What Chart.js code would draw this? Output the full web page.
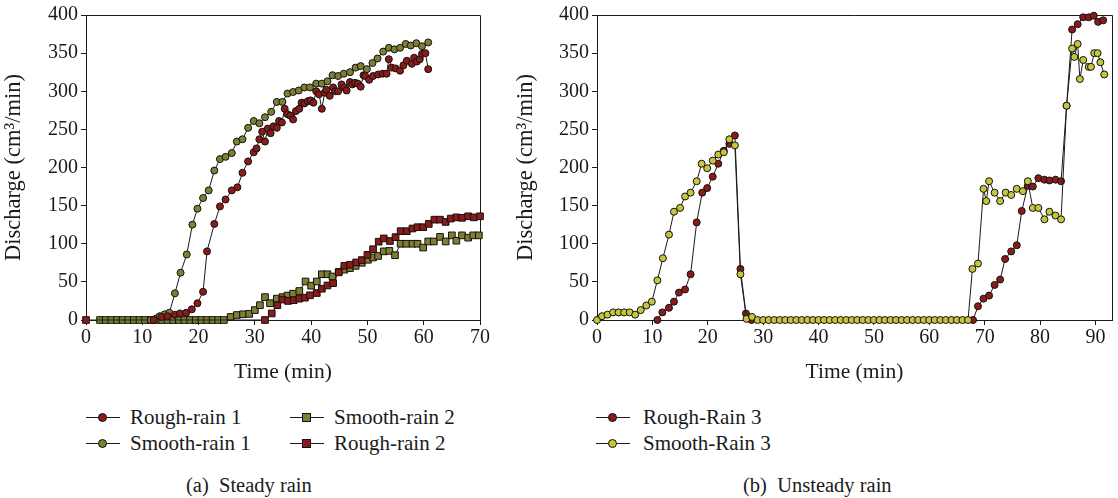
<!DOCTYPE html>
<html lang="en">
<head>
<meta charset="UTF-8">
<title>Discharge under steady and unsteady rain</title>
<script src="https://cdn.jsdelivr.net/npm/chart.js@4.4.1/dist/chart.umd.min.js"></script>
<style>
  body {
    margin: 0;
    width: 1118px;
    height: 498px;
    position: relative;
    overflow: hidden;
    background: #fff;
    color: #1a1a1a;
    font-family: "Liberation Serif", "DejaVu Serif", serif;
  }
  canvas { position: absolute; top: 0; }
  #chartA { left: 0; }
  #chartB { left: 512px; }
  .item {
    position: absolute;
    height: 24px;
    line-height: 24px;
    font-size: 21px;
    white-space: nowrap;
  }
  .sym {
    position: absolute;
    left: 0;
    top: 12px;
    width: 34px;
    height: 1px;
    background: #1a1a1a;
  }
  .sym i {
    position: absolute;
    left: 12px;
    top: -4px;
    width: 9px;
    height: 9px;
    box-sizing: border-box;
    border: 1px solid #111;
  }
  .sym i.dot { border-radius: 50%; }
  .label { position: absolute; top: 0; }
  .caption {
    position: absolute;
    top: 473px;
    font-size: 20.5px;
    line-height: 24px;
    white-space: pre;
  }
</style>
</head>
<body>
<canvas id="chartA" width="512" height="389"></canvas>
<canvas id="chartB" width="606" height="389"></canvas>

<!-- legend (a) -->
<div class="item" style="left:86px; top:405px;">
  <span class="sym"><i class="dot" style="background:#8b1a1a"></i></span><span class="label" style="left:44px">Rough-rain 1</span>
</div>
<div class="item" style="left:86px; top:431px;">
  <span class="sym"><i class="dot" style="background:#7f7f33"></i></span><span class="label" style="left:44px">Smooth-rain 1</span>
</div>
<div class="item" style="left:290px; top:405px;">
  <span class="sym"><i style="background:#7f7f33"></i></span><span class="label" style="left:44px">Smooth-rain 2</span>
</div>
<div class="item" style="left:290px; top:431px;">
  <span class="sym"><i style="background:#8b1a1a"></i></span><span class="label" style="left:44px">Rough-rain 2</span>
</div>
<div class="caption" style="left:186px">(a)  Steady rain</div>

<!-- legend (b) -->
<div class="item" style="left:596px; top:405px;">
  <span class="sym"><i class="dot" style="background:#8b1a1a"></i></span><span class="label" style="left:47px">Rough-Rain 3</span>
</div>
<div class="item" style="left:596px; top:431px;">
  <span class="sym"><i class="dot" style="background:#c6c63c"></i></span><span class="label" style="left:47px">Smooth-Rain 3</span>
</div>
<div class="caption" style="left:743px">(b)  Unsteady rain</div>

<script>
// ---- (a) steady rain, time in min / discharge in cm3/min ----
const roughRain1Time = [12, 13.4, 14.5, 15.8, 16.7, 17.8, 18.8, 19.8, 20.8, 21.5,
  22.8, 23.8, 24.8, 25.9, 26.9, 27.8, 28.8, 29.8, 30.3, 30.8,
  31.3, 31.8, 32.3, 32.8, 33.3, 33.9, 34.3, 34.8, 35.3, 35.8,
  36.3, 36.8, 37.3, 37.9, 38.3, 38.8, 39.4, 39.9, 40.4, 40.9,
  41.4, 41.9, 42.4, 42.7, 43.3, 43.9, 44.3, 44.8, 45.4, 45.9,
  46.3, 46.9, 47.3, 47.8, 48.3, 48.8, 49.3, 49.6, 50.3, 51,
  51.9, 52.7, 53.4, 53.8, 54.3, 55, 55.8, 56.4, 57, 57.9,
  58.3, 58.8, 59.3, 59.7, 60.3, 60.8];
const roughRain1 = [0, 4, 5, 7, 8.6, 9.5, 14, 22, 37, 90,
  126, 149, 158, 170, 174, 193, 208, 220, 225, 237,
  247, 234, 251, 245, 254, 252, 261, 259, 277, 270,
  268, 263, 274, 277, 285, 284, 287, 288, 285, 300,
  296, 277, 298, 302, 294, 305, 300, 300, 309, 305,
  301, 312, 309, 311, 310, 306, 321, 320, 315, 320,
  322, 323, 323, 342, 331, 330, 327, 334, 340, 336,
  344, 339, 342, 349, 350, 329];

const smoothRain1Time = [11.5, 12.5, 13.1, 14, 14.8, 15.8, 16.8, 17.9, 18.9, 19.8,
  20.8, 21.8, 22.8, 23.8, 24.8, 25.9, 26.8, 27.8, 28.8, 29.8,
  30.8, 31.8, 32.9, 33.9, 34.9, 35.8, 36.8, 37.8, 38.8, 39.8,
  40.9, 41.9, 42.9, 43.8, 44.8, 45.8, 46.9, 47.9, 48.8, 49.9,
  50.9, 51.8, 52.8, 53.8, 54.8, 55.8, 56.8, 57.7, 58.7, 59.7,
  60.8];
const smoothRain1 = [0, 2, 5, 7.5, 9.5, 35, 62, 86, 125, 146,
  160, 170, 196, 211, 214, 219, 234, 237, 252, 261,
  258, 266, 273, 286, 286, 297, 299, 301, 305, 305,
  310, 310, 313, 321, 320, 323, 325, 331, 333, 329,
  337, 343, 352, 357, 355, 357, 362, 360, 363, 359,
  364];

const smoothRain2Time = [2.5, 3.5, 4.5, 5.5, 6.5, 7.5, 8.5, 9.5, 10.5, 11.5,
  12.5, 13.5, 14.5, 15.5, 16.5, 17.5, 18.5, 19.5, 20.5, 21.5,
  22.5, 23.5, 24.5, 25.7, 26.8, 27.9, 29, 30, 30.9, 31.8,
  32.7, 33.9, 34.9, 35.8, 36.8, 37.9, 39, 40, 41, 41.9,
  42.9, 43.8, 44.9, 45.9, 46.9, 47.9, 49, 50.1, 51, 51.9,
  52.9, 53.9, 54.9, 55.9, 56.9, 58, 58.9, 59.9, 60.8, 61.8,
  62.9, 63.9, 65, 65.8, 66.8, 67.9, 68.8, 69.8];
const smoothRain2 = [0, 0, 0, 0, 0, 0, 0, 0, 0, 0,
  0, 0, 0, 0, 0, 0, 0, 0, 0, 0,
  0, 0, 0, 4, 6.5, 7.5, 8, 13, 19.4, 30,
  22, 28, 30, 32, 34.5, 38, 50.5, 45, 50.5, 60,
  60, 57, 63, 66, 68, 71, 75, 79, 82, 84,
  90, 90.6, 85, 100, 100, 100, 100, 95, 103, 103,
  109, 103, 111, 104, 111, 108, 111, 111];

const roughRain2Time = [0, 31.8, 33, 34, 34.9, 35.9, 36.9, 37.9, 38.9, 39.8,
  41, 41.9, 42.9, 43.9, 44.9, 45.9, 46.9, 48, 49, 50,
  51, 52, 52.9, 54, 55, 55.9, 57, 58, 58.9, 59.9,
  60.9, 61.9, 62.9, 63.9, 64.8, 65.8, 66.8, 67.9, 68.9, 70];
const roughRain2 = [0, 0, 8.6, 19.4, 26.8, 25, 26, 28, 29.3, 32.4,
  35.4, 41, 45.3, 48.3, 62.5, 71, 72.5, 75.5, 78.6, 85.4,
  92.8, 102.7, 107, 103.6, 108.7, 116.5, 116.5, 120, 121.7, 121.7,
  126, 131.6, 131.6, 128.6, 133, 134.6, 134, 136, 134.6, 136];

// ---- (b) unsteady rain ----
const roughRain3Time = [10.9, 11.8, 13, 13.9, 14.8, 15.9, 16.9, 18, 19, 19.9,
  20.9, 21.9, 22.9, 23.9, 24.9, 25.9, 26.9, 27.9, 67.9, 68.8,
  69.8, 70.8, 71.8, 72.8, 73.7, 74.8, 75.8, 76.7, 77.8, 78.7,
  79.7, 80.8, 81.7, 82.8, 83.8, 84.8, 85.8, 86.8, 87.8, 88.8,
  89.7, 90.5, 91.4];
const roughRain3 = [0, 10, 16, 24, 36, 40, 60, 128, 167, 173,
  188, 205, 222, 231, 242, 67, 8.5, 0, 0, 18,
  28, 32, 46, 53, 80, 90, 98, 143, 176, 175,
  186, 184, 183, 184, 182, 281, 381, 388, 397, 397,
  399, 391, 393];

const smoothRain3Time = [0, 0.9, 1.9, 2.9, 3.9, 4.9, 5.9, 6.9, 7.9, 8.9,
  9.9, 10.9, 11.9, 13, 13.9, 15, 15.9, 16.9, 18, 18.9,
  19.9, 20.9, 21.9, 22.9, 23.9, 24.9, 25.9, 27, 28, 29,
  30, 31, 32, 33, 34, 35, 36, 37, 38, 39,
  40, 41, 42, 43, 44, 45, 46, 47, 48, 49,
  50, 51, 52, 53, 54, 55, 56, 57, 58, 59,
  60, 61, 62, 63, 64, 65, 66, 67, 67.8, 68.8,
  69.8, 70.3, 70.8, 71.8, 72.8, 73.8, 74.8, 75.8, 76.9, 77.8,
  78.7, 79.7, 80.8, 81.7, 82.8, 83.8, 84.8, 85.8, 86.2, 86.8,
  87.2, 87.8, 88.8, 89.2, 89.8, 90.4, 90.9, 91.6];
const smoothRain3 = [0, 5, 7, 10, 10, 10, 10, 7, 13, 19,
  24, 52, 81, 112, 142, 147, 162, 167, 182, 205,
  199, 209, 217, 220, 237, 229, 60, 1.5, 4, 0,
  0, 0, 0, 0, 0, 0, 0, 0, 0, 0,
  0, 0, 0, 0, 0, 0, 0, 0, 0, 0,
  0, 0, 0, 0, 0, 0, 0, 0, 0, 0,
  0, 0, 0, 0, 0, 0, 0, 0, 67, 74,
  172, 156, 182, 167, 156, 167, 164, 172, 169, 182,
  147, 147, 132, 142, 137, 132, 281, 356, 345, 362,
  316, 341, 332, 332, 350, 350, 338, 322];

const yTicks = [0, 50, 100, 150, 200, 250, 300, 350, 400];

const RED = '#8b1a1a';
const OLIVE = '#7f7f33';
const LIME = '#c6c63c';
const INK = '#1a1a1a';
const FAMILY = '"Liberation Serif", "DejaVu Serif", serif';
const TICK_FONT = { family: FAMILY, size: 20 };
const TITLE_FONT = { family: FAMILY, size: 21.5 };
const YTITLE_FONT = { family: FAMILY, size: 22.5 };

function pts(t, v) {
  return t.map((x, i) => ({ x: x, y: v[i] }));
}

function series(t, v, color, style) {
  return {
    data: pts(t, v),
    showLine: true,
    borderColor: INK,
    borderWidth: 1,
    tension: 0,
    pointStyle: style,
    pointRadius: style === 'rect' ? 4.7 : 3.5,
    pointBackgroundColor: color,
    pointBorderColor: '#111',
    pointBorderWidth: 1,
    clip: false
  };
}

// top and right frame of the plot area
const frame = {
  id: 'frame',
  beforeDatasetsDraw(chart) {
    const a = chart.chartArea;
    const ctx = chart.ctx;
    ctx.save();
    ctx.strokeStyle = INK;
    ctx.lineWidth = 1;
    ctx.beginPath();
    ctx.moveTo(a.left, Math.round(a.top) + 0.5);
    ctx.lineTo(Math.round(a.right) + 0.5, Math.round(a.top) + 0.5);
    ctx.lineTo(Math.round(a.right) + 0.5, a.bottom);
    ctx.stroke();
    ctx.restore();
  }
};

function makeChart(id, datasets, xMax, yWidth, padTop, padRight) {
  return new Chart(document.getElementById(id), {
    type: 'scatter',
    data: { datasets: datasets },
    options: {
      responsive: false,
      animation: false,
      layout: { padding: { top: padTop, right: padRight, left: 0, bottom: 0 } },
      plugins: { legend: { display: false }, tooltip: { enabled: false } },
      scales: {
        x: {
          type: 'linear',
          min: 0,
          max: xMax,
          afterFit: s => { s.height = 69; },
          ticks: { stepSize: 10, includeBounds: false, color: INK, font: TICK_FONT, padding: 1, maxRotation: 0 },
          grid: { drawOnChartArea: false, tickLength: 5, color: INK },
          border: { color: INK },
          title: { display: true, text: 'Time (min)', color: INK, font: TITLE_FONT }
        },
        y: {
          type: 'linear',
          min: yTicks[0],
          max: yTicks[yTicks.length - 1],
          afterFit: s => { s.width = yWidth; },
          ticks: { stepSize: 50, color: INK, font: TICK_FONT, padding: 3 },
          grid: { drawOnChartArea: false, tickLength: 5, color: INK },
          border: { color: INK },
          title: { display: true, text: 'Discharge (cm³/min)', color: INK, font: YTITLE_FONT, padding: 1 }
        }
      }
    },
    plugins: [frame]
  });
}

makeChart('chartA', [
  series(roughRain1Time, roughRain1, RED, 'circle'),
  series(smoothRain1Time, smoothRain1, OLIVE, 'circle'),
  series(roughRain2Time, roughRain2, RED, 'rect'),
  series(smoothRain2Time, smoothRain2, OLIVE, 'rect')
], 70, 86, 11, 32);

makeChart('chartB', [
  series(smoothRain3Time, smoothRain3, LIME, 'circle'),
  series(roughRain3Time, roughRain3, RED, 'circle')
], 93, 85, 15, 6);
</script>
</body>
</html>
